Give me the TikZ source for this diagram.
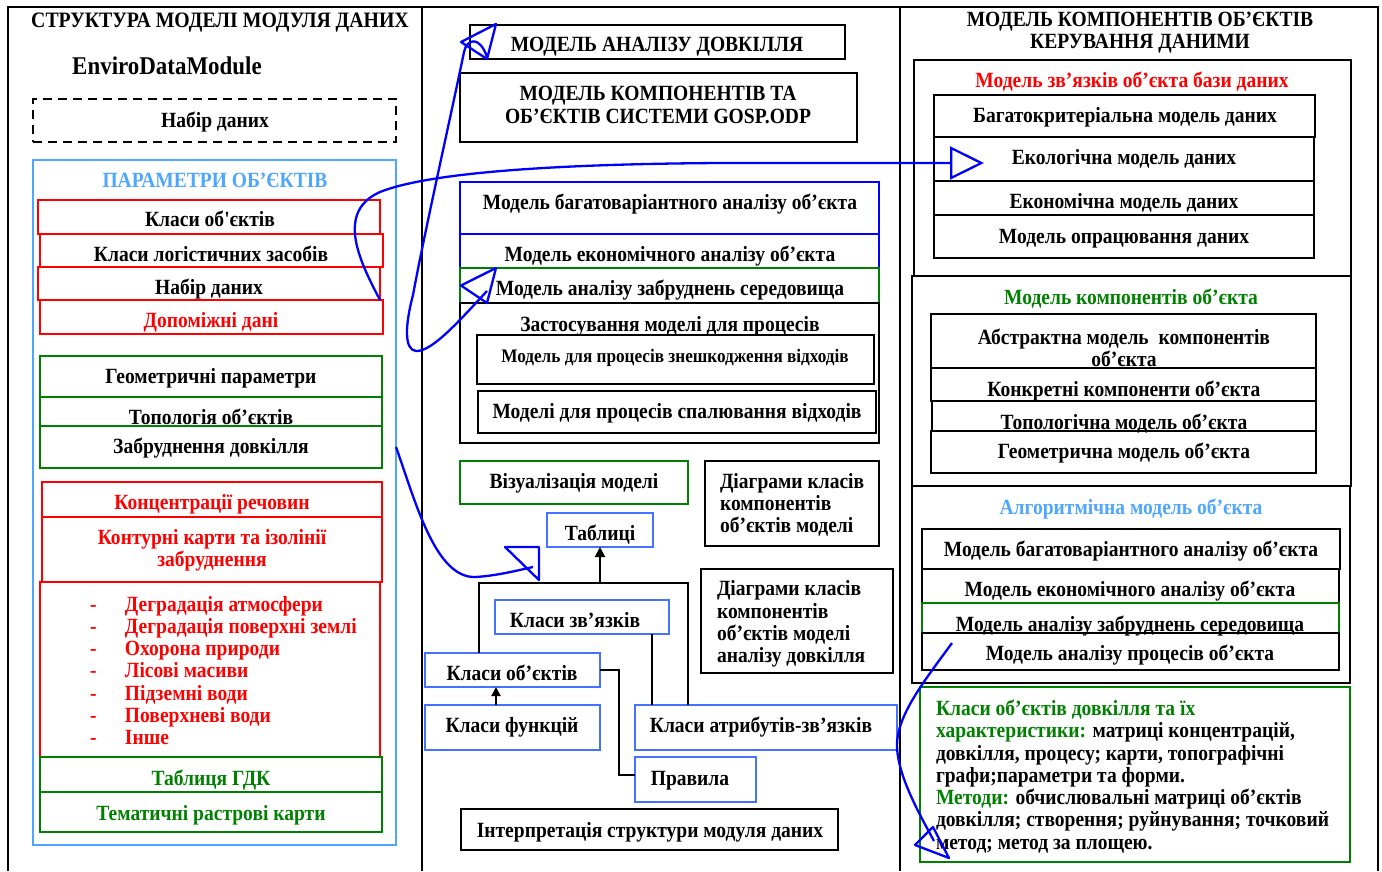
\documentclass[tikz,border=0pt]{standalone}
\usepackage{fontspec}
\setmainfont{Liberation Serif}[Ligatures=TeXOff, FakeStretch=0.9]
\usetikzlibrary{arrows.meta,calc}
\definecolor{rd}{RGB}{255,0,0}
\definecolor{gr}{RGB}{0,128,0}
\definecolor{lb}{RGB}{77,166,255}
\definecolor{mb}{RGB}{66,114,255}
\definecolor{cb}{RGB}{0,0,255}
\newcommand{\fsz}[2]{\fontsize{#1}{#2}\selectfont\bfseries}
\newcommand{\bx}[6]{\node[#6, minimum width={(#4-#2)*1pt}, minimum height={(#5-#3)*1pt}] (#1) at ({(#2+#4)/2},{(#3+#5)/2}) {};}
\begin{document}
\begin{tikzpicture}[x=1pt,y=-1pt,
 bxs/.style={draw, line width=2.5pt, inner sep=0pt, outer sep=0pt, rectangle},
 kb/.style={bxs, draw=black},
 rb/.style={bxs, draw=rd},
 gb/.style={bxs, draw=gr},
 lbb/.style={bxs, draw=lb},
 mbb/.style={bxs, draw=mb},
 bb/.style={bxs, draw=cb},
 txt/.style={inner sep=0pt, outer sep=0pt, font=\fsz{21.7}{22.3}, text height=20pt, text depth=5pt},
 mtxt/.style={inner sep=0pt, outer sep=0pt, font=\fsz{21.7}{22.3}, align=center},
 ltxt/.style={inner sep=0pt, outer sep=0pt, font=\fsz{21.7}{22.3}, align=left, anchor=west},
 conn/.style={line width=2pt, draw=black},
 bconn/.style={line width=2.3pt, draw=cb, line join=round}]
\useasboundingbox (0,0) rectangle (1382,871);
% frame
\draw[line width=1.2pt] (8,871) -- (8,7) -- (1378,7) -- (1378,871);
\draw[line width=1.2pt] (422,7) -- (422,871);
\draw[line width=1.2pt] (900,7) -- (900,871);

% ===== left column =====
\node[txt, font=\fsz{22}{22}] (lt) at (220,20) {СТРУКТУРА МОДЕЛІ МОДУЛЯ ДАНИХ};
\node[txt, font=\fsz{25.5}{26}] (edm) at (167,67) {EnviroDataModule};
\bx{nd}{33}{99}{396}{142}{kb, dash pattern=on 9pt off 6pt}
\node[txt] (ndt) at (215,120) {Набір даних};
\bx{pob}{33}{160}{396}{845}{lbb}
\node[txt, text=lb] (pobt) at (215,180) {ПАРАМЕТРИ ОБ’ЄКТІВ};
\node[txt] (ko1t) at (210,219) {Класи об'єктів};
\node[txt] (klt) at (211,254) {Класи логістичних засобів};
\node[txt] (nd2t) at (209,287) {Набір даних};
\node[txt, text=rd] (ddt) at (211,320) {Допоміжні дані};
\bx{ko1}{38}{200}{380}{234}{rb}
\bx{kl}{40}{234}{383}{267}{rb}
\bx{nd2}{38}{267}{380}{300}{rb}
\bx{dd}{40}{300}{383}{334}{rb}
\node[txt] (gpt) at (211,376) {Геометричні параметри};
\node[txt] (tot) at (211,417) {Топологія об’єктів};
\node[txt] (zdt) at (211,446) {Забруднення довкілля};
\bx{gp}{40}{356}{382}{397}{gb}
\bx{to}{40}{397}{382}{426}{gb}
\bx{zd}{40}{426}{382}{468}{gb}
\node[txt, text=rd] (krt) at (212,502) {Концентрації речовин};
\node[mtxt, text=rd] (kkt) at (212,550.5) {Контурні карти та ізолінії\\забруднення};
\bx{kr}{42}{482}{382}{517}{rb}
\bx{kk}{42}{517}{382}{582}{rb}
\bx{ls}{40}{582}{380}{757}{rb}
\node[ltxt, text=rd] (lst) at (90,670.5) {\makebox[35pt][l]{-}Деградація атмосфери\\
\makebox[35pt][l]{-}Деградація поверхні землі\\
\makebox[35pt][l]{-}Охорона природи\\
\makebox[35pt][l]{-}Лісові масиви\\
\makebox[35pt][l]{-}Підземні води\\
\makebox[35pt][l]{-}Поверхневі води\\
\makebox[35pt][l]{-}Інше};
\bx{gdk}{40}{757}{382}{792}{gb}
\node[txt, text=gr] (gdkt) at (211,778) {Таблиця ГДК};
\bx{trk}{40}{792}{382}{832}{gb}
\node[txt, text=gr] (trkt) at (211,813) {Тематичні растрові карти};

% ===== middle column =====
\bx{mad}{470}{25}{845}{59}{kb}
\node[txt] (madt) at (657,44) {МОДЕЛЬ АНАЛІЗУ ДОВКІЛЛЯ};
\bx{mks}{460}{73}{857}{142}{kb}
\node[mtxt] (mkst) at (658,105) {МОДЕЛЬ КОМПОНЕНТІВ ТА\\ОБ’ЄКТІВ СИСТЕМИ GOSP.ODP};
\node[txt] (mbat) at (670,202) {Модель багатоваріантного аналізу об’єкта};
\node[txt] (meat) at (670,254) {Модель економічного аналізу об’єкта};
\node[txt] (mazt) at (670,288) {Модель аналізу забруднень середовища};
\bx{mba}{460}{182}{879}{234}{bb}
\bx{mea}{460}{234}{879}{268}{bb}
\bx{maz}{460}{268}{879}{303}{gb}
\bx{zmp}{460}{303}{879}{443}{kb}
\node[txt] (zmpt) at (670,324) {Застосування моделі для процесів};
\bx{mzv}{477}{335}{874}{384}{kb}
\node[txt, font=\fsz{19.1}{20}] (mzvt) at (675,355) {Модель для процесів знешкодження відходів};
\bx{msv}{478}{391}{876}{433}{kb}
\node[txt] (msvt) at (677,411) {Моделі для процесів спалювання відходів};
\bx{viz}{460}{461}{688}{504}{gb}
\node[txt] (vizt) at (574,481) {Візуалізація моделі};
\bx{dk1}{705}{461}{879}{546}{kb}
\node[ltxt] (dk1t) at (720,505) {Діаграми класів\\компонентів\\об’єктів моделі};
\bx{tb}{547}{513}{653}{547}{mbb}
\node[txt] (tbt) at (600,533) {Таблиці};
\bx{dk2}{701}{569}{893}{673}{kb}
\node[ltxt] (dk2t) at (717,624) {Діаграми класів\\компонентів\\об’єктів моделі\\аналізу довкілля};
\bx{kz}{495}{600}{669}{634}{mbb}
\node[txt] (kzt) at (575,620) {Класи зв’язків};
\bx{ko}{425}{653}{600}{687}{mbb}
\node[txt] (kot) at (512,673) {Класи об’єктів};
\bx{kf}{425}{705}{600}{750}{mbb}
\node[txt] (kft) at (512,725) {Класи функцій};
\bx{ka}{635}{705}{897}{750}{mbb}
\node[txt] (kat) at (761,725) {Класи атрибутів-зв’язків};
\bx{pr}{635}{757}{756}{802}{mbb}
\node[txt] (prt) at (690,778) {Правила};
\bx{isd}{461}{809}{838}{850}{kb}
\node[txt] (isdt) at (650,830) {Інтерпретація структури модуля даних};

% middle connectors
\draw[conn] ([xshift=54pt]ko.north west) -- ++(0,-70) -| ([xshift=53pt]ka.north west);
\coordinate (fr) at ([xshift=175pt,yshift=70pt]ko.north west);
\draw[conn,-{Triangle[length=10pt,width=10pt]}] (fr) -- (tb.south);
\coordinate (kzb) at ([xshift=157pt]kz.south west);
\draw[conn] (kzb) -- (kzb |- ka.north);
\draw[conn,-{Triangle[length=9pt,width=9pt]}] ([xshift=71pt]kf.north west) -- ([xshift=71pt]ko.south west);
\draw[conn] (ko.east) -- ++(19,0) |- ([yshift=5pt]pr.west);

% ===== right column =====
\node[mtxt] (rt) at (1140,32.5) {МОДЕЛЬ КОМПОНЕНТІВ ОБ’ЄКТІВ\\КЕРУВАННЯ ДАНИМИ};
\bx{mzb}{914}{60}{1351}{276}{kb}
\node[txt, text=rd] (mzbt) at (1132,80) {Модель зв’язків об’єкта бази даних};
\bx{bmd}{934}{95}{1315}{137}{kb}
\node[txt] (bmdt) at (1125,115) {Багатокритеріальна модель даних};
\bx{eco}{934}{137}{1314}{181}{kb}
\node[txt] (ecot) at (1124,157) {Екологічна модель даних};
\bx{ekn}{934}{181}{1314}{215}{kb}
\node[txt] (eknt) at (1124,201) {Економічна модель даних};
\bx{mod}{934}{215}{1314}{258}{kb}
\node[txt] (modt) at (1124,236) {Модель опрацювання даних};
\bx{mko}{912}{276}{1351}{486}{kb}
\node[txt, text=gr] (mkot) at (1131,297) {Модель компонентів об’єкта};
\bx{amk}{931}{314}{1316}{368}{kb}
\node[mtxt] (amkt) at (1124,348) {Абстрактна модель\ \ компонентів\\об’єкта};
\bx{kko}{931}{368}{1316}{401}{kb}
\node[txt] (kkot) at (1124,389) {Конкретні компоненти об’єкта};
\bx{tmo}{932}{401}{1316}{431}{kb}
\node[txt] (tmot) at (1124,422) {Топологічна модель об’єкта};
\bx{gmo}{931}{431}{1316}{473}{kb}
\node[txt] (gmot) at (1124,451) {Геометрична модель об’єкта};
\bx{amo}{912}{486}{1350}{683}{kb}
\node[txt, text=lb] (amot) at (1131,507) {Алгоритмічна модель об’єкта};
\bx{rba}{922}{529}{1340}{569}{kb}
\node[txt] (rbat) at (1131,549) {Модель багатоваріантного аналізу об’єкта};
\bx{rea}{922}{569}{1339}{603}{kb}
\node[txt] (reat) at (1130,589) {Модель економічного аналізу об’єкта};
\node[txt] (razt) at (1130,624) {Модель аналізу забруднень середовища};
\bx{raz}{922}{603}{1339}{633}{gb}
\bx{rap}{922}{633}{1339}{670}{kb}
\node[txt] (rapt) at (1130,653) {Модель аналізу процесів об’єкта};
\bx{kod}{920}{687}{1350}{862}{gb}
\node[ltxt] (kodt) at (936,776.5) {\textcolor{gr}{Класи об’єктів довкілля та їх}\\
\textcolor{gr}{характеристики:} матриці концентрацій,\\
довкілля, процесу; карти, топографічні\\
графи;параметри та форми.\\
\textcolor{gr}{Методи:} обчислювальні матриці об’єктів\\
довкілля; створення; руйнування; точковий\\
метод; метод за площею.};

% ===== blue connectors =====
\coordinate (c1e) at ([xshift=50pt,yshift=-4pt]eco.west);
\draw[bconn,-{Triangle[open,length=34pt,width=33pt]}] (nd2.south east) .. controls (360,262) and (335,212) .. (380,192) .. controls (430,172) and (560,164) .. (720,163) -- (c1e);

\coordinate (c2t) at ([xshift=17pt,yshift=-15pt]mad.west);
\coordinate (c2b) at ([xshift=27pt,yshift=-5.5pt]maz.west);
\draw[bconn] (c2b) .. controls (460,320) and (432,352) .. (416,351) .. controls (404,350) and (405,325) .. (413,295) .. controls (425,230) and (450,120) .. (464,52) .. controls (467,38) and (480,36) .. (c2t);
\draw[bconn] ([xshift=-9pt]mad.west) -- ([xshift=26pt,yshift=18pt]mad.west) -- ([xshift=17pt,yshift=-17pt]mad.west) -- cycle;
\draw[bconn] ([xshift=1pt]maz.west) -- ([xshift=36pt,yshift=17.5pt]maz.west) -- ([xshift=27pt,yshift=-17.5pt]maz.west) -- cycle;

\coordinate (c3s) at (pob.east |- zd.center);
\coordinate (c3e) at ([xshift=-14pt,yshift=-20pt]tb.south west);
\draw[bconn] (c3s) .. controls (415,500) and (435,578) .. (475,577) .. controls (495,576) and (515,571) .. (c3e);
\draw[bconn] ([xshift=-42pt]tb.south west) -- ([xshift=-8pt]tb.south west) -- ([xshift=-8pt,yshift=-33pt]tb.south west) -- cycle;

\coordinate (c4s) at ([xshift=30pt,yshift=8.5pt]rap.west);
\coordinate (c4e) at ([xshift=14pt,yshift=21pt]kod.south west);
\draw[bconn] (c4s) .. controls (925,680) and (897,715) .. (897,745) .. controls (897,775) and (920,815) .. (c4e);
\draw[bconn] ([xshift=-5pt,yshift=17pt]kod.south west) -- ([xshift=13pt,yshift=35pt]kod.south west) -- ([xshift=29pt,yshift=4pt]kod.south west) -- cycle;
\end{tikzpicture}
\end{document}
